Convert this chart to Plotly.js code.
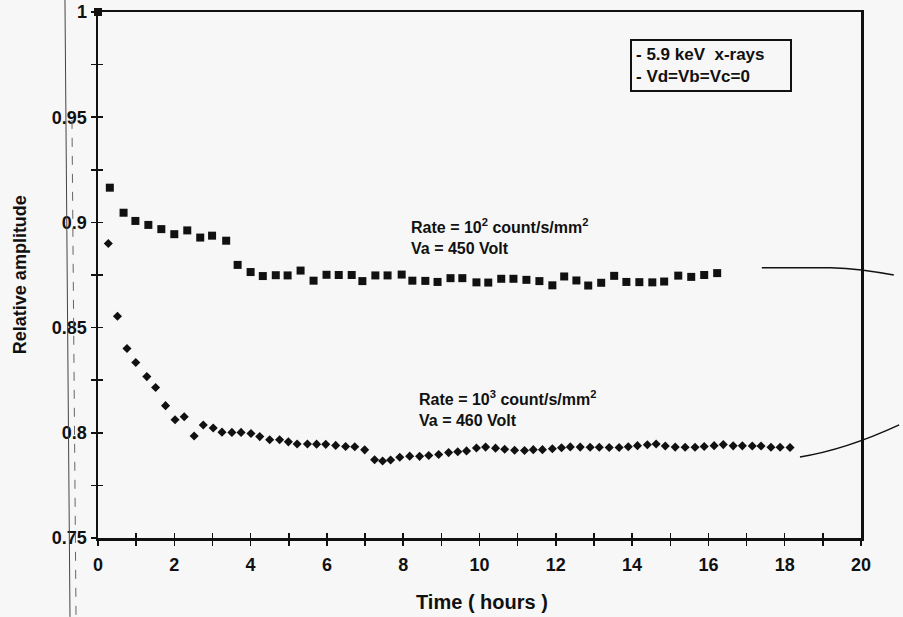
<!DOCTYPE html>
<html>
<head>
<meta charset="utf-8">
<script src="https://cdn.plot.ly/plotly-3.0.1.min.js"></script>
<style>html,body{margin:0;padding:0;background:#f7f7f7;}#chart{width:903px;height:617px;}</style>
</head>
<body>
<div id="chart"></div>
<script>
// Series 1: Rate = 10^2 count/s/mm^2, Va = 450 Volt (squares)
const hoursLow = [0, 0.31, 0.67, 0.98, 1.32, 1.66, 2.0, 2.34, 2.68, 2.99, 3.36, 3.66, 4.0, 4.32, 4.66, 4.97, 5.31, 5.65, 5.99, 6.31, 6.65, 6.93, 7.27, 7.59, 7.96, 8.24, 8.58, 8.9, 9.24, 9.55, 9.92, 10.23, 10.57, 10.89, 11.23, 11.57, 11.91, 12.22, 12.54, 12.85, 13.19, 13.53, 13.85, 14.19, 14.53, 14.84, 15.21, 15.55, 15.89, 16.23];
const ampLow = [1.0, 0.9165, 0.9046, 0.9007, 0.8988, 0.8968, 0.8944, 0.8962, 0.8928, 0.8937, 0.8913, 0.8798, 0.8764, 0.8745, 0.8749, 0.8748, 0.8771, 0.8723, 0.8751, 0.875, 0.875, 0.8721, 0.8748, 0.8748, 0.8752, 0.8723, 0.8722, 0.8717, 0.8735, 0.8735, 0.8715, 0.8714, 0.8732, 0.8732, 0.8727, 0.8721, 0.8701, 0.8743, 0.8724, 0.87, 0.8713, 0.8746, 0.8717, 0.8716, 0.8715, 0.8719, 0.8747, 0.8741, 0.875, 0.8759];

// Series 2: Rate = 10^3 count/s/mm^2, Va = 460 Volt (diamonds)
const hoursHigh = [0.27, 0.51, 0.76, 0.99, 1.28, 1.51, 1.77, 2.02, 2.26, 2.52, 2.76, 3.02, 3.25, 3.51, 3.75, 4.01, 4.24, 4.5, 4.76, 4.99, 5.22, 5.49, 5.73, 5.97, 6.23, 6.49, 6.73, 6.99, 7.25, 7.46, 7.67, 7.91, 8.17, 8.43, 8.67, 8.93, 9.19, 9.43, 9.66, 9.92, 10.16, 10.42, 10.66, 10.92, 11.18, 11.41, 11.65, 11.91, 12.15, 12.38, 12.64, 12.9, 13.14, 13.4, 13.66, 13.9, 14.14, 14.4, 14.63, 14.87, 15.13, 15.39, 15.65, 15.89, 16.15, 16.39, 16.65, 16.89, 17.15, 17.38, 17.64, 17.88, 18.14];
const ampHigh = [0.89, 0.8554, 0.8401, 0.8334, 0.8267, 0.8215, 0.8129, 0.8062, 0.8076, 0.7985, 0.8037, 0.8023, 0.8003, 0.8002, 0.8002, 0.7997, 0.7982, 0.7967, 0.7967, 0.7957, 0.7947, 0.7947, 0.7946, 0.7945, 0.794, 0.7935, 0.7934, 0.7919, 0.7872, 0.7866, 0.7871, 0.7884, 0.7889, 0.7888, 0.7892, 0.7897, 0.7906, 0.791, 0.7914, 0.7928, 0.7932, 0.7927, 0.7922, 0.7917, 0.7916, 0.792, 0.792, 0.7924, 0.7929, 0.7933, 0.7932, 0.7931, 0.7931, 0.793, 0.793, 0.7934, 0.7939, 0.7943, 0.7947, 0.7937, 0.7932, 0.7931, 0.7931, 0.7935, 0.7939, 0.7944, 0.7938, 0.7938, 0.7937, 0.7937, 0.7931, 0.7931, 0.793];

const xTitle = 'Time ( hours )';
const yTitle = 'Relative amplitude';
const legendLines = ['- 5.9 keV\u00a0\u00a0x-rays', '- Vd=Vb=Vc=0'];
const labelLow = ['Rate = 10<sup>2</sup> count/s/mm<sup>2</sup>', 'Va = 450 Volt'];
const labelHigh = ['Rate = 10<sup>3</sup> count/s/mm<sup>2</sup>', 'Va = 460 Volt'];

const FONT = 'Liberation Sans, Arial, sans-serif';
const INK = '#111';

const traces = [
  {x: hoursLow, y: ampLow, type: 'scatter', mode: 'markers', cliponaxis: false,
   marker: {symbol: 'square', size: 8, color: INK}, showlegend: false, hoverinfo: 'skip'},
  {x: hoursHigh, y: ampHigh, type: 'scatter', mode: 'markers', cliponaxis: false,
   marker: {symbol: 'diamond', size: 7, color: INK}, showlegend: false, hoverinfo: 'skip'},
  {x: [0], y: [1], xaxis: 'x2', yaxis: 'y2', type: 'scatter', mode: 'markers',
   marker: {opacity: 0}, showlegend: false, hoverinfo: 'skip'}
];

const tickCommon = {ticklen: 5, tickwidth: 1.5, tickcolor: INK, showgrid: false, zeroline: false};
const tickFont = {family: FONT, size: 18, color: INK, weight: 'bold'};

const layout = {
  width: 903, height: 617,
  margin: {l: 98, r: 42, t: 12, b: 79},
  paper_bgcolor: '#f7f7f7', plot_bgcolor: '#f7f7f7',
  font: {family: FONT, color: INK},
  showlegend: false,
  xaxis: Object.assign({}, tickCommon, {
    range: [0, 20], tick0: 0, dtick: 2, ticks: 'outside', ticklabelstandoff: 4,
    showline: true, linewidth: 2.5, linecolor: INK, mirror: true,
    minor: {dtick: 1, ticks: 'outside', ticklen: 5, tickwidth: 1.5, tickcolor: INK},
    tickfont: tickFont
  }),
  yaxis: Object.assign({}, tickCommon, {
    range: [0.75, 1], tick0: 0.75, dtick: 0.05, ticks: 'outside',
    showline: true, linewidth: 2.5, linecolor: INK, mirror: true,
    minor: {dtick: 0.025, ticks: 'outside', ticklen: 5, tickwidth: 1.5, tickcolor: INK},
    tickfont: tickFont
  }),
  xaxis2: Object.assign({}, tickCommon, {
    overlaying: 'x', anchor: 'y', side: 'bottom', range: [0, 20], tick0: 0, dtick: 2,
    ticks: 'inside', showticklabels: false, showline: false,
    minor: {dtick: 1, ticks: 'inside', ticklen: 5, tickwidth: 1.5, tickcolor: INK}
  }),
  yaxis2: Object.assign({}, tickCommon, {
    overlaying: 'y', anchor: 'x', side: 'left', range: [0.75, 1], tick0: 0.75, dtick: 0.05,
    ticks: 'inside', showticklabels: false, showline: false,
    minor: {dtick: 0.025, ticks: 'inside', ticklen: 5, tickwidth: 1.5, tickcolor: INK}
  }),
  annotations: [
    {xref: 'paper', yref: 'paper', x: 0.503, y: -0.122, xanchor: 'center', yanchor: 'middle',
     text: xTitle, showarrow: false, font: {family: FONT, size: 20, color: INK, weight: 'bold'}},
    {xref: 'paper', yref: 'paper', x: -0.102, y: 0.5, xanchor: 'center', yanchor: 'middle',
     text: yTitle, textangle: -90, showarrow: false, font: {family: FONT, size: 18, color: INK, weight: 'bold'}},
    {xref: 'x', yref: 'y', x: 8.15, y: 0.8934, xanchor: 'left', yanchor: 'middle', align: 'left',
     text: labelLow.join('<br>'), showarrow: false, font: {family: FONT, size: 16, color: INK, weight: 'bold'}},
    {xref: 'x', yref: 'y', x: 8.36, y: 0.8116, xanchor: 'left', yanchor: 'middle', align: 'left',
     text: labelHigh.join('<br>'), showarrow: false, font: {family: FONT, size: 16, color: INK, weight: 'bold'}},
    {xref: 'paper', yref: 'paper', x: 0.9096, y: 0.948, xanchor: 'right', yanchor: 'top', align: 'left',
     width: 150, text: legendLines.join('<br>'), showarrow: false, bgcolor: '#f7f7f7',
     bordercolor: INK, borderwidth: 2, borderpad: 4,
     font: {family: FONT, size: 17, color: INK, weight: 'bold'}}
  ],
  shapes: [
    {type: 'line', xref: 'paper', yref: 'paper', x0: -0.0433, x1: -0.0367, y0: 1.024, y1: -0.150,
     line: {color: '#444', width: 1}},
    {type: 'line', xref: 'paper', yref: 'paper', x0: -0.0341, x1: -0.0288, y0: 0.795, y1: -0.150,
     line: {color: '#666', width: 1, dash: 'dash'}},
    {type: 'path', xref: 'paper', yref: 'paper',
     path: 'M 0.870 0.514 L 0.960 0.514 Q 1.0 0.512 1.043 0.500',
     line: {color: INK, width: 1.5}},
    {type: 'path', xref: 'paper', yref: 'paper',
     path: 'M 0.920 0.154 Q 0.98 0.168 1.050 0.215',
     line: {color: INK, width: 1.5}}
  ]
};

Plotly.newPlot('chart', traces, layout, {displayModeBar: false, staticPlot: true});
</script>
</body>
</html>
